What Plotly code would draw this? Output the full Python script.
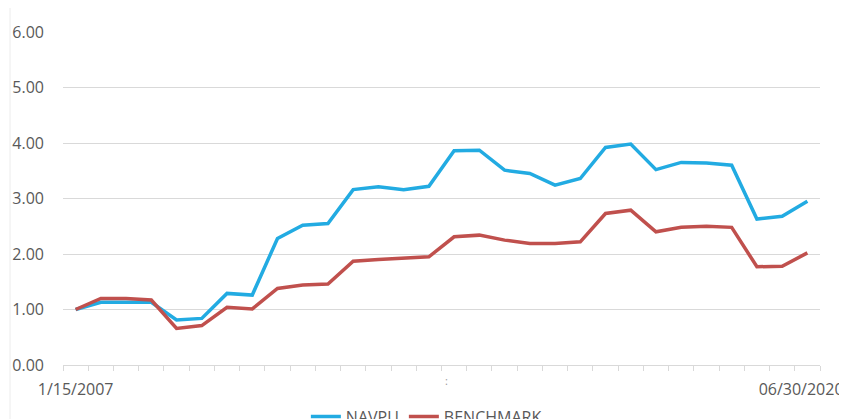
import plotly.graph_objects as go

n_points = 30
x_idx = list(range(n_points))
label_pos = [0, 28.75]
tick_labels = ["1/15/2007", "06/30/2020"]

navpu = [1.00, 1.13, 1.13, 1.13, 0.81, 0.84, 1.29, 1.26, 2.28, 2.52,
         2.55, 3.16, 3.21, 3.16, 3.22, 3.86, 3.87, 3.51, 3.45, 3.24,
         3.36, 3.92, 3.98, 3.52, 3.65, 3.64, 3.60, 2.63, 2.68, 2.95]
benchmark = [1.00, 1.20, 1.20, 1.17, 0.66, 0.71, 1.04, 1.01, 1.38, 1.44,
             1.46, 1.87, 1.90, 1.93, 1.95, 2.31, 2.34, 2.25, 2.19, 2.19,
             2.22, 2.73, 2.79, 2.40, 2.48, 2.50, 2.48, 1.77, 1.78, 2.02]

BLUE = "#22abe2"
RED = "#c0504d"
GRAY_TXT = "#595959"
GRID = "#d9d9d9"
FONT = "Open Sans, Liberation Sans, sans-serif"

fig = go.Figure()
fig.add_trace(go.Scatter(x=x_idx, y=navpu, mode="lines", name="NAVPU",
                         line=dict(color=BLUE, width=3.5)))
fig.add_trace(go.Scatter(x=x_idx, y=benchmark, mode="lines", name="BENCHMARK",
                         line=dict(color=RED, width=3.5)))

fig.update_layout(
    width=839, height=411,
    margin=dict(l=55, r=27, t=24, b=54, autoexpand=False),
    paper_bgcolor="white", plot_bgcolor="white",
    font=dict(family=FONT, size=16, color=GRAY_TXT),
    showlegend=True,
    legend=dict(orientation="h", x=0.48, xanchor="center", y=-0.155, yanchor="middle",
                font=dict(size=16, color=GRAY_TXT), itemwidth=30,
                traceorder="normal"),
    xaxis=dict(range=[-0.5, n_points - 0.5], tickmode="array",
               tickvals=label_pos, ticktext=tick_labels, showgrid=False,
               showline=True, linecolor=GRID, linewidth=1, ticks="",
               zeroline=False, automargin=False, ticklabelstandoff=10,
               minor=dict(tick0=-0.5, dtick=1, ticks="outside", ticklen=5,
                          tickcolor=GRID, showgrid=False),
               tickfont=dict(size=16, color=GRAY_TXT)),
    yaxis=dict(range=[0, 6], dtick=1, tickformat=".2f", showgrid=True,
               gridcolor=GRID, gridwidth=1, zeroline=False, showline=False,
               automargin=False,
               ticklabelstandoff=18, tickfont=dict(size=16, color=GRAY_TXT)),
)

fig.add_annotation(x=14.7, y=-0.075, xref="x", yref="paper", text=":",
                   showarrow=False, font=dict(size=11, color="#9a9a9a"))

fig.add_shape(type="line", xref="paper", yref="paper",
              x0=-0.07, x1=-0.07, y0=-0.17, y1=1.1,
              line=dict(color="#ececec", width=1))

fig.write_html("out.html")
